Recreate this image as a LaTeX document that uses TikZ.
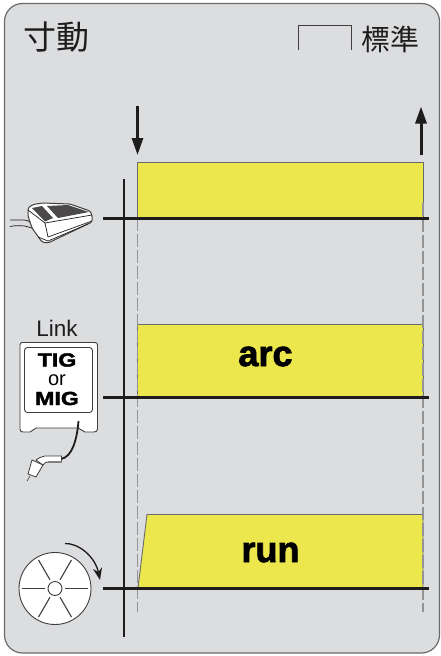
\documentclass[tikz,border=0pt]{standalone}
\usepackage{fontspec}
\setmainfont{Liberation Sans}
\newfontfamily\cjk{Noto Sans CJK TC}
\newfontfamily\heavy[FakeBold=2.2]{Liberation Sans Bold}
\newfontfamily\heavywide[FakeStretch=1.22,FakeBold=2]{Liberation Sans Bold}
\usetikzlibrary{arrows.meta}
\definecolor{panelbg}{HTML}{DCDDDF}
\definecolor{barfill}{HTML}{ECE74D}
\definecolor{ink}{HTML}{1E1C1D}
\definecolor{edge}{HTML}{6A6B6D}
\tikzset{
  panel/.style={draw=edge,fill=panelbg,line width=1.2pt,rounded corners=18pt},
  bar/.style={draw=edge,fill=barfill,line width=0.9pt},
  baseline/.style={draw=ink,line width=3pt},
  axis/.style={draw=ink,line width=2.2pt},
  guide/.style={draw=gray!85,line width=1.2pt,dash pattern=on 13pt off 3pt},
  bigarrow/.style={draw=ink,line width=3pt,-{Triangle[length=17pt,width=11pt]}},
  outl/.style={draw=ink!85,line width=0.8pt,fill=white},
  title/.style={font=\cjk\fontsize{33}{33}\selectfont,text=ink,inner sep=0pt},
  std/.style={font=\cjk\fontsize{29}{29}\selectfont,text=ink,inner sep=0pt},
  barlabel/.style={font=\heavy\fontsize{36}{36}\selectfont,text=black,inner sep=0pt},
  cardlabel/.style={font=\heavywide\fontsize{19}{19}\selectfont,text=black,inner sep=0pt},
}
\begin{document}
\begin{tikzpicture}[x=1pt,y=-1pt]
\useasboundingbox (0,0) rectangle (441,656);
\path[fill=white] (0,0) rectangle (441,656);
\path[panel] (4.5,3.5) rectangle (439.5,653);
% titles
\node[title] (tj) at (56.5,37) {寸動};
\node[std] (ts) at (390,39) {標準};
\draw[draw=ink!85,line width=1pt] (298.5,50) -- (298.5,25) -- (351.5,25) -- (351.5,50);
% bars
\path[bar] (137,162.5) rectangle (423,218);
\path[bar] (137,324.5) rectangle (423,397);
\path[bar] (138,588) -- (147,514.5) -- (423,514.5) -- (423,588) -- cycle;
% guides
\path[guide] (137.5,218) -- (137.5,612);
\path[guide] (423,203) -- (423,612);
% axes
\path[axis] (124,179) -- (124,637);
\path[baseline] (103,218.5) -- (429,218.5);
\path[baseline] (103,397.5) -- (429,397.5);
\path[baseline] (103,588.5) -- (429,588.5);
% arrows
\coordinate (da) at (137.5,106); \coordinate (db) at (137.5,155);
\coordinate (ua) at (421,155); \coordinate (ub) at (421,106.5);
\path[bigarrow] (da) -- (db);
\path[bigarrow] (ua) -- (ub);
% labels
\node[barlabel] (arc) at (265.5,356.5) {arc};
\node[barlabel] (run) at (270.5,552.5) {run};
% pedal
\draw[draw=ink,line width=0.7pt] (10,220) -- (24,220) .. controls (27,220) and (29,221) .. (31,223)
  (10,226.5) .. controls (18,225) and (25,225) .. (34,229);
\draw[outl,line width=1pt,rounded corners=1.5pt] (28,208) -- (33,204.5) -- (43,203) -- (70,204) -- (90,211) -- (92,215) -- (92,222) -- (48,243) -- (42,242) -- (32,228) -- (28,216) -- cycle;
\draw[draw=ink,line width=0.7pt] (28,210) -- (45,223) -- (92,215) (45,223) -- (48,237) -- (92,221) (38,237) -- (48,241) -- (88,224);
\fill[ink!80] (32,208) -- (42,206) -- (53,218) -- (45,221.5) -- cycle;
\fill[ink!80] (47,206) -- (68,205) -- (89,212) -- (58,218) -- cycle;
% card
\draw[outl,line width=0.9pt] (22,342.5) -- (95,342.5) .. controls (96.5,342.5) and (97.5,343.5) .. (97.5,345) -- (97.5,429) .. controls (97.5,431) and (96,432) .. (94,432) -- (85,432) -- (78,428) -- (36,428) -- (30,432) -- (23,432) .. controls (21,432) and (20,431) .. (20,429) -- (20,345) .. controls (20,343.5) and (21,342.5) .. (22,342.5) -- cycle;
\draw[outl,line width=0.9pt,rounded corners=3pt] (24.5,347.5) rectangle (92.5,412.5);
\node[font=\fontsize{22.5}{22.5}\selectfont,text=ink,inner sep=0pt] (lnk) at (57,328) {Link};
\node[cardlabel] (tig) at (57,360) {TIG};
\node[font=\fontsize{20}{20}\selectfont,text=black,inner sep=0pt] (or) at (57,380) {or};
\node[cardlabel] (mig) at (57,398.5) {MIG};
% torch
\draw[draw=ink,line width=1.8pt] (78.5,421) .. controls (77,440) and (72,457) .. (61,459);
\draw[outl,line width=0.8pt] (61.5,456) -- (45,456) .. controls (41,457) and (38,458) .. (36,460) -- (43,465) .. controls (44,463) and (46,462) .. (48,462) -- (61.5,462) -- cycle;
\draw[draw=gray,line width=1.2pt] (48,462) -- (61.5,462);
\draw[outl,line width=0.8pt] (32,460) -- (43,465) -- (36,477) -- (28,474) -- cycle;
\draw[draw=ink!85,line width=0.6pt] (30,476) -- (27,481);
% wheel
\coordinate (wc) at (55,588.5);
\draw[outl,line width=0.9pt] (wc) circle (36);
\draw[outl,line width=0.9pt] (wc) circle (7);
\foreach \a in {0,60,120,180,240,300}
  \draw[draw=ink!85,line width=1.1pt] (wc) ++(\a:10) -- ++(\a:23);
\draw[draw=ink,line width=1.3pt,-{Stealth[length=12pt,width=9pt]}] (65,543.5) .. controls (78,543) and (95,556) .. (100,580);
\end{tikzpicture}
\end{document}
